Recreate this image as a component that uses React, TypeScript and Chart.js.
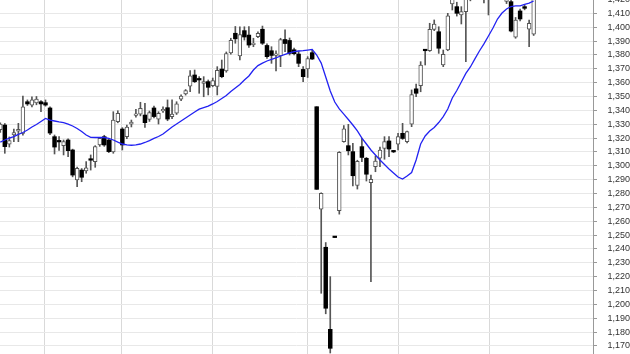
import { useEffect, useRef } from 'react';
import { Chart, registerables } from 'chart.js';

Chart.register(...registerables);

// Daily OHLC candles (one entry per trading session, oldest first)
const opens = [
  1326.0, 1329.4, 1315.5, 1322.2, 1325.0, 1323.4, 1346.2, 1343.8, 1345.3, 1346.2,
  1345.5, 1341.7, 1321.0, 1318.2, 1314.5, 1318.6, 1311.4, 1289.7, 1296.9, 1296.2,
  1304.5, 1303.0, 1315.0, 1321.0, 1318.6, 1310.0, 1331.8, 1326.5, 1321.0, 1330.1,
  1336.3, 1337.3, 1336.6, 1333.5, 1341.7, 1333.7, 1339.5, 1341.9, 1335.4, 1337.9,
  1348.0, 1351.8, 1357.5, 1365.5, 1362.2, 1359.5, 1360.7, 1357.8, 1357.3, 1369.8,
  1368.4, 1381.4, 1395.6, 1379.3, 1397.5, 1394.3, 1387.4, 1393.1, 1398.5, 1386.8,
  1383.0, 1379.7, 1379.2, 1391.1, 1390.4, 1383.7, 1380.6, 1369.5, 1369.8, 1381.6,
  1342.6, 1268.6, 1241.2, 1182.0, 1248.6, 1267.6, 1317.4, 1314.5, 1310.2, 1285.8,
  1313.8, 1305.4, 1287.8, 1299.3, 1305.4, 1312.6, 1317.9, 1310.3, 1315.5, 1323.4,
  1317.4, 1330.1, 1355.5, 1357.7, 1383.3, 1383.0, 1398.3, 1396.7, 1372.7, 1383.5,
  1416.7, 1414.8, 1408.8, 1411.2, 1422.0, 1431.0, 1426.0, 1434.0, 1425.0, 1432.0,
  1427.0, 1435.0, 1418.5, 1418.4, 1392.7, 1411.7, 1414.8, 1398.5, 1394.9,
];
const highs = [
  1331.0, 1330.5, 1320.8, 1326.5, 1330.6, 1350.3, 1347.5, 1349.8, 1350.0, 1347.0,
  1347.5, 1342.5, 1322.2, 1321.0, 1318.6, 1319.5, 1312.0, 1299.0, 1298.0, 1303.0,
  1307.8, 1314.5, 1320.5, 1322.0, 1319.0, 1339.0, 1339.7, 1327.5, 1329.4, 1333.0,
  1340.7, 1345.8, 1345.0, 1339.5, 1343.1, 1339.0, 1342.6, 1347.5, 1347.5, 1346.2,
  1351.2, 1355.0, 1368.6, 1369.1, 1364.3, 1364.3, 1361.9, 1363.3, 1371.5, 1376.3,
  1382.1, 1392.0, 1400.5, 1400.3, 1400.3, 1400.5, 1392.0, 1396.7, 1400.8, 1388.0,
  1385.9, 1383.0, 1392.0, 1398.0, 1392.2, 1385.0, 1382.3, 1371.5, 1378.7, 1383.5,
  1342.6, 1280.5, 1244.6, 1220.0, 1248.6, 1310.2, 1329.0, 1329.9, 1316.2, 1304.0,
  1320.0, 1306.0, 1293.3, 1307.0, 1313.5, 1321.0, 1321.0, 1311.0, 1323.4, 1330.6,
  1325.0, 1354.7, 1359.0, 1375.1, 1383.5, 1402.8, 1405.2, 1400.3, 1383.5, 1410.0,
  1428.0, 1418.0, 1414.8, 1428.0, 1433.0, 1434.0, 1437.0, 1436.0, 1434.0, 1436.0,
  1438.0, 1437.0, 1429.0, 1421.0, 1407.0, 1413.0, 1416.0, 1405.2, 1424.0,
];
const lows = [
  1324.0, 1309.0, 1313.5, 1317.4, 1317.4, 1322.0, 1343.5, 1342.5, 1344.0, 1339.0,
  1343.0, 1322.5, 1308.5, 1311.0, 1307.8, 1306.5, 1292.0, 1284.9, 1288.5, 1294.6,
  1296.9, 1298.9, 1314.0, 1314.0, 1309.5, 1309.0, 1331.0, 1311.4, 1319.5, 1328.0,
  1335.0, 1336.0, 1327.7, 1332.0, 1334.5, 1330.1, 1338.5, 1332.5, 1334.0, 1337.0,
  1347.0, 1351.0, 1353.4, 1360.0, 1352.3, 1349.8, 1351.1, 1357.0, 1351.1, 1363.5,
  1367.5, 1380.5, 1388.4, 1376.3, 1390.7, 1385.3, 1385.9, 1392.5, 1387.5, 1377.5,
  1373.9, 1368.4, 1371.5, 1382.3, 1379.9, 1379.9, 1371.5, 1360.7, 1363.7, 1376.7,
  1283.0, 1208.0, 1193.2, 1164.9, 1248.2, 1265.1, 1317.0, 1307.8, 1285.4, 1283.2,
  1303.0, 1289.0, 1216.4, 1295.7, 1299.3, 1304.7, 1306.5, 1309.5, 1311.4, 1319.0,
  1316.5, 1328.2, 1349.8, 1353.4, 1372.7, 1382.5, 1397.5, 1381.1, 1371.5, 1383.0,
  1412.4, 1408.0, 1402.3, 1375.1, 1419.0, 1423.0, 1424.0, 1417.5, 1408.8, 1424.0,
  1425.0, 1424.0, 1417.0, 1396.5, 1392.0, 1404.5, 1412.5, 1385.9, 1394.0,
];
const closes = [
  1330.0, 1313.8, 1318.1, 1323.9, 1326.3, 1342.6, 1344.6, 1347.5, 1348.2, 1344.6,
  1343.8, 1323.6, 1313.5, 1317.2, 1317.4, 1310.9, 1293.3, 1298.2, 1291.7, 1298.6,
  1304.0, 1313.8, 1319.8, 1315.0, 1310.2, 1333.0, 1337.9, 1315.0, 1328.0, 1331.6,
  1336.9, 1341.5, 1331.1, 1338.3, 1335.5, 1337.9, 1340.7, 1333.7, 1337.3, 1344.6,
  1350.3, 1354.2, 1364.8, 1360.7, 1361.9, 1360.7, 1356.6, 1361.5, 1368.9, 1364.3,
  1381.0, 1390.5, 1391.6, 1394.7, 1392.9, 1387.1, 1387.9, 1395.6, 1388.4, 1378.7,
  1379.6, 1380.1, 1391.1, 1388.2, 1381.1, 1380.9, 1373.9, 1364.3, 1377.3, 1377.0,
  1283.0, 1280.1, 1197.2, 1168.3, 1248.2, 1309.7, 1326.7, 1310.8, 1292.8, 1303.2,
  1306.0, 1293.9, 1290.2, 1303.3, 1311.4, 1317.4, 1312.1, 1310.0, 1321.0, 1319.7,
  1324.6, 1351.3, 1352.3, 1372.6, 1383.0, 1398.5, 1402.3, 1384.8, 1380.4, 1408.1,
  1425.0, 1410.0, 1411.2, 1425.0, 1430.0, 1426.0, 1434.0, 1428.0, 1431.0, 1427.0,
  1435.0, 1428.0, 1426.0, 1397.2, 1405.2, 1405.9, 1413.6, 1402.8, 1421.0,
];

// Moving average of the close, one value per session
const movingAverage = [
  1317.1, 1318.6, 1320.0, 1321.1, 1322.6, 1324.0, 1325.8, 1328.0, 1329.8, 1331.9,
  1334.1, 1333.0, 1332.3, 1331.6, 1331.1, 1330.1, 1328.7, 1326.9, 1324.7, 1322.2,
  1320.5, 1320.4, 1320.4, 1320.4, 1319.7, 1318.6, 1317.1, 1315.7, 1315.0, 1314.8,
  1315.0, 1315.7, 1316.8, 1318.2, 1319.7, 1321.1, 1322.9, 1325.4, 1328.0, 1330.1,
  1332.3, 1334.5, 1336.6, 1338.8, 1340.9, 1342.0, 1343.1, 1344.6, 1346.4, 1348.5,
  1350.7, 1353.6, 1356.1, 1358.6, 1361.9, 1364.8, 1369.1, 1372.3, 1374.1, 1375.6,
  1376.7, 1377.8, 1379.2, 1380.3, 1381.4, 1382.4, 1382.8, 1383.0, 1383.5, 1384.0,
  1379.9, 1374.1, 1364.0, 1353.9, 1346.0, 1341.0, 1337.3, 1333.4, 1329.4, 1325.1,
  1320.0, 1315.7, 1311.4, 1307.8, 1304.2, 1300.9, 1297.7, 1294.8, 1291.9, 1290.4,
  1292.6, 1295.1, 1304.2, 1315.7, 1321.5, 1325.1, 1327.6, 1331.2, 1335.5, 1340.9,
  1348.9, 1354.3, 1360.4, 1366.6, 1371.3, 1377.1, 1382.8, 1387.9, 1393.6, 1399.4,
  1405.9, 1410.2, 1413.1, 1414.9, 1415.3, 1415.3, 1416.4, 1417.4, 1418.9,
];

// Session positions where a new month begins (vertical grid lines)
const monthStarts = [9.74, 26.86, 47.0, 68.0, 88.15, 108.2];

// Price axis range and tick step
const priceMin = 1149.76;
const priceMax = 1434.03;
const priceStep = 10;

export default function App() {
  const canvasRef = useRef<HTMLCanvasElement>(null);

  useEffect(() => {
    const canvas = canvasRef.current;
    if (!canvas) return;
    const idx = opens.map((_, i) => i);
    const rising = idx.map((i) => closes[i] >= opens[i]);

    const chart = new Chart(canvas, {
      type: 'bar',
      data: {
        datasets: [
          {
            type: 'line',
            data: idx.map((i) => ({ x: i, y: movingAverage[i] })),
            borderColor: '#2222f2',
            borderWidth: 1.3,
            pointRadius: 0,
            tension: 0,
            order: 0,
          } as any,
          {
            type: 'bar',
            data: idx.map((i) => ({ x: i, y: [opens[i], closes[i]] })),
            backgroundColor: rising.map((r) => (r ? '#ffffff' : '#000000')),
            borderColor: rising.map((r) => (r ? '#555555' : '#000000')),
            borderWidth: rising.map((r) => (r ? 1 : 0)),
            borderSkipped: false,
            barThickness: 3.8,
            minBarLength: 1.5,
            grouped: false,
            order: 1,
          } as any,
          {
            type: 'bar',
            data: idx.map((i) => ({ x: i, y: [lows[i], highs[i]] })),
            backgroundColor: '#555555',
            borderWidth: 0,
            barThickness: 1,
            grouped: false,
            order: 2,
          } as any,
        ],
      },
      options: {
        responsive: false,
        animation: false,
        devicePixelRatio: 1,
        layout: { padding: 0 },
        plugins: {
          legend: { display: false },
          tooltip: { enabled: false },
        },
        scales: {
          x: {
            type: 'linear',
            min: -0.066,
            max: 131.13,
            offset: false,
            grid: { color: '#d9d9d9', drawTicks: false, offset: false },
            border: { display: false },
            ticks: { display: false },
            afterBuildTicks: (scale: any) => {
              scale.ticks = monthStarts.map((v) => ({ value: v }));
            },
            afterFit: (scale: any) => {
              scale.height = 0;
            },
          },
          y: {
            position: 'right',
            min: priceMin,
            max: priceMax,
            grid: { color: '#e8e8e8', tickColor: '#999999', tickLength: 4 },
            border: { color: '#999999' },
            ticks: {
              stepSize: priceStep,
              includeBounds: false,
              autoSkip: false,
              padding: 10.5,
              color: '#333333',
              font: { family: 'Liberation Sans, Arial, sans-serif', size: 9 },
              callback: (v: any) => Number(v).toLocaleString('en-US'),
            },
            afterFit: (scale: any) => {
              scale.width = 37;
              scale.paddingTop = 0;
              scale.paddingBottom = 0;
            },
          },
        },
      } as any,
    });

    return () => chart.destroy();
  }, []);

  return (
    <div
      style={{
        position: 'fixed',
        left: 0,
        top: 0,
        width: 630,
        height: 354,
        overflow: 'hidden',
        background: '#ffffff',
      }}
    >
      <canvas
        ref={canvasRef}
        width={630}
        height={394}
        style={{ position: 'absolute', left: 0, top: -20, width: 630, height: 394 }}
      />
    </div>
  );
}
